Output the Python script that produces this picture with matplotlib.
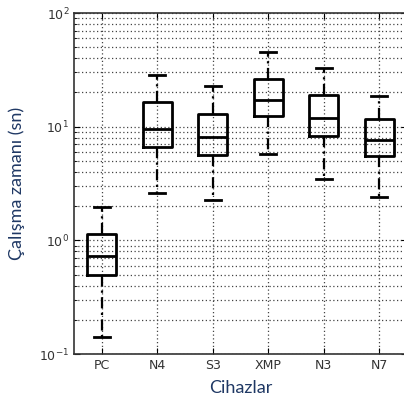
import matplotlib
matplotlib.use("Agg")
import matplotlib.pyplot as plt
from matplotlib.ticker import LogLocator, NullFormatter

labels = ["PC", "N4", "S3", "XMP", "N3", "N7"]
whislo = [0.141, 2.61, 2.27, 5.75, 3.47, 2.41]
q1     = [0.497, 6.63, 5.64, 12.4, 8.28, 5.52]
med    = [0.73, 9.55, 8.1, 17.2, 11.9, 7.64]
q3     = [1.14, 16.5, 12.9, 26.3, 19.0, 11.7]
whishi = [1.97, 28.5, 22.8, 45.4, 32.8, 18.6]

stats = [dict(label=l, whislo=a, q1=b, med=c, q3=d, whishi=e, fliers=[])
         for l, a, b, c, d, e in zip(labels, whislo, q1, med, q3, whishi)]

fig = plt.figure(figsize=(4.04, 3.99), dpi=100)
ax = fig.add_axes([74/404, 45/399, 333/404, 341/399])

ax.bxp(stats, widths=0.52, showfliers=False,
       boxprops=dict(color="black", linewidth=2),
       medianprops=dict(color="black", linewidth=2),
       whiskerprops=dict(color="black", linewidth=1.6, linestyle=(0, (5, 2, 1, 2))),
       capprops=dict(color="black", linewidth=2),
       capwidths=0.28)

ax.set_yscale("log")
ax.set_ylim(0.1, 100)
ax.set_xlim(0.5, 6.5)
ax.yaxis.set_major_locator(LogLocator(base=10))
ax.yaxis.set_minor_locator(LogLocator(base=10, subs=range(2, 10)))
ax.yaxis.set_minor_formatter(NullFormatter())

ax.grid(True, which="major", axis="both", linestyle=(0, (1, 2)), color="#444444", linewidth=0.9)
ax.grid(True, which="minor", axis="y", linestyle=(0, (1, 2)), color="#444444", linewidth=0.9)
ax.set_axisbelow(True)

ax.tick_params(which="both", direction="in", top=True, right=True,
               labelsize=9, labelcolor="#333333")
ax.tick_params(which="major", length=4)
ax.tick_params(which="minor", length=2)
for s in ax.spines.values():
    s.set_linewidth(1.2)
    s.set_color("#333333")

ax.set_xlabel("Cihazlar", fontsize=13, color="#1f3864", family=["Lato", "DejaVu Sans"], labelpad=6)
ax.set_ylabel("Çalışma zamanı (sn)", fontsize=13, color="#1f3864", family=["Lato", "DejaVu Sans"], labelpad=10)

fig.savefig("out.png", dpi=100)
